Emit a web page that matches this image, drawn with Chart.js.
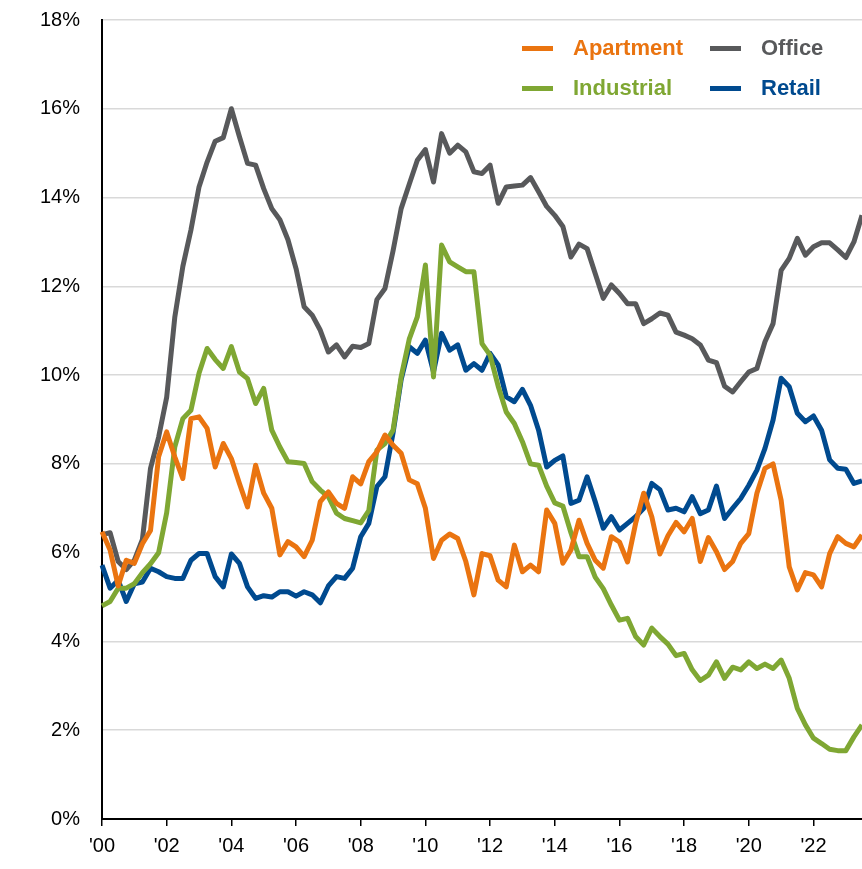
<!DOCTYPE html>
<html>
<head>
<meta charset="utf-8">
<script src="https://cdn.jsdelivr.net/npm/chart.js@4.4.1/dist/chart.umd.min.js"></script>
<style>
  body { margin: 0; background: #fff; overflow: hidden; }
  #wrap { position: relative; width: 862px; height: 869px; }
  #legend {
    position: absolute; left: 522px; top: 35px;
    display: grid; grid-template-columns: 188px auto; row-gap: 14px;
    font: bold 22px "Liberation Sans", Arial, sans-serif;
  }
  .item { display: flex; align-items: center; height: 26px; white-space: nowrap; }
  .swatch { width: 31px; height: 5px; margin-right: 20px; }
</style>
</head>
<body>
<div id="wrap">
  <canvas id="chart"></canvas>
  <div id="legend"></div>
</div>
<script>
// Quarterly vacancy rates, 2000 Q1 onward (percent)
const tickLabels = ["'00", "'02", "'04", "'06", "'08", "'10", "'12", "'14", "'16", "'18", "'20", "'22"];

const apartment = [
  6.47, 6.06, 5.25, 5.83, 5.76, 6.2, 6.5, 8.16, 8.72, 8.16, 7.67, 9.02, 9.06, 8.8, 7.93, 8.46,
  8.12, 7.56, 7.03, 7.97, 7.34, 7.0, 5.95, 6.25, 6.13, 5.91, 6.28, 7.15, 7.37, 7.11, 7.0, 7.71,
  7.55, 8.05, 8.27, 8.65, 8.42, 8.24, 7.64, 7.55, 7.0, 5.87, 6.28, 6.42, 6.32, 5.8, 5.05, 5.98,
  5.93, 5.38, 5.23, 6.17, 5.57, 5.72, 5.57, 6.96, 6.66, 5.76, 6.06, 6.73, 6.21, 5.83, 5.65, 6.36,
  6.24, 5.79, 6.66, 7.34, 6.81, 5.97, 6.38, 6.68, 6.47, 6.77, 5.8, 6.34, 6.02, 5.62, 5.8, 6.21,
  6.43, 7.34, 7.9, 8.0, 7.18, 5.68, 5.16, 5.55, 5.5, 5.23, 5.98, 6.36, 6.21, 6.13, 6.4
];
const office = [
  6.4, 6.45, 5.8, 5.62, 5.83, 6.3, 7.9, 8.6, 9.5, 11.3, 12.45, 13.27, 14.24, 14.8, 15.27, 15.35,
  16.0, 15.37, 14.77, 14.73, 14.2, 13.75, 13.5, 13.05, 12.4, 11.54, 11.35, 11.01, 10.52, 10.68, 10.41, 10.65,
  10.62, 10.71, 11.7, 11.95, 12.8, 13.75, 14.3, 14.84, 15.08, 14.35, 15.44, 15.0, 15.18, 15.03, 14.58, 14.54,
  14.73, 13.87, 14.24, 14.26, 14.28, 14.45, 14.13, 13.8, 13.6, 13.35, 12.66, 12.95, 12.85, 12.29, 11.73, 12.03,
  11.84, 11.61, 11.61, 11.16, 11.27, 11.4, 11.35, 10.97, 10.9, 10.82, 10.68, 10.34, 10.28, 9.75, 9.62, 9.85,
  10.07, 10.15, 10.75, 11.16, 12.36, 12.63, 13.08, 12.7, 12.89, 12.98, 12.98, 12.82, 12.65, 13.0, 13.6
];
const industrial = [
  4.8, 4.9, 5.2, 5.2, 5.3, 5.55, 5.75, 6.0, 6.9, 8.38, 9.02, 9.21, 10.04, 10.6, 10.35, 10.15,
  10.64, 10.07, 9.92, 9.36, 9.7, 8.76, 8.38, 8.05, 8.03, 8.01, 7.6, 7.41, 7.26, 6.89, 6.77, 6.72,
  6.67, 6.95, 8.31, 8.46, 8.76, 9.96, 10.81, 11.31, 12.48, 9.96, 12.93, 12.55, 12.44, 12.33, 12.33, 10.71,
  10.45, 9.75, 9.17, 8.91, 8.5, 8.0, 7.97, 7.5, 7.12, 7.05, 6.45, 5.91, 5.91, 5.45, 5.19, 4.82,
  4.48, 4.52, 4.11, 3.92, 4.3, 4.11, 3.94, 3.68, 3.73, 3.36, 3.12, 3.24, 3.54, 3.17, 3.42, 3.36,
  3.54, 3.39, 3.49, 3.39, 3.58, 3.17, 2.49, 2.12, 1.82, 1.7, 1.57, 1.54, 1.54, 1.85, 2.12
];
const retail = [
  5.72, 5.2, 5.38, 4.9, 5.3, 5.34, 5.65, 5.57, 5.46, 5.42, 5.42, 5.83, 5.98, 5.98, 5.46, 5.23,
  5.97, 5.76, 5.23, 4.97, 5.03, 5.0, 5.12, 5.12, 5.02, 5.12, 5.05, 4.87, 5.25, 5.46, 5.42, 5.65,
  6.36, 6.66, 7.49, 7.71, 8.7, 9.9, 10.64, 10.49, 10.79, 10.07, 10.94, 10.56, 10.68, 10.11, 10.26, 10.11,
  10.49, 10.23, 9.51, 9.4, 9.68, 9.32, 8.76, 7.93, 8.08, 8.18, 7.11, 7.18, 7.71, 7.15, 6.55, 6.81,
  6.51, 6.66, 6.81, 7.0, 7.56, 7.42, 6.96, 7.0, 6.92, 7.26, 6.88, 6.96, 7.5, 6.77, 7.0, 7.22,
  7.52, 7.86, 8.35, 8.99, 9.93, 9.74, 9.14, 8.95, 9.08, 8.76, 8.09, 7.9, 7.88, 7.56, 7.62
];

// one label per quarter
const quarters = [];
for (let i = 0; i < office.length; i++) {
  quarters.push((2000 + Math.floor(i / 4)) + ' Q' + (i % 4 + 1));
}

const colors = {
  apartment: '#EA7410',
  office: '#58595B',
  industrial: '#7FA733',
  retail: '#004A8F'
};

const font = { family: '"Liberation Sans", Arial, sans-serif', size: 20 };

const chart = new Chart(document.getElementById('chart'), {
  type: 'line',
  data: {
    labels: quarters,
    datasets: [
      { label: 'Apartment', data: apartment, borderColor: colors.apartment },
      { label: 'Office', data: office, borderColor: colors.office },
      { label: 'Industrial', data: industrial, borderColor: colors.industrial },
      { label: 'Retail', data: retail, borderColor: colors.retail }
    ]
  },
  options: {
    responsive: true,
    maintainAspectRatio: false,
    animation: false,
    layout: { padding: { top: 20, right: 0, bottom: 0, left: 0 } },
    elements: {
      line: { tension: 0, borderWidth: 5, borderJoinStyle: 'round', fill: false },
      point: { radius: 0 }
    },
    plugins: {
      legend: { display: false },
      tooltip: { enabled: false }
    },
    scales: {
      x: {
        type: 'category',
        offset: false,
        border: { color: '#000', width: 2 },
        grid: { drawOnChartArea: false, color: '#000', lineWidth: 1.5, tickLength: 7 },
        ticks: {
          autoSkip: false,
          maxRotation: 0,
          padding: 8,
          color: '#000',
          font: font,
          // label only the first quarter of every second year
          callback: (v, i) => (i % 8 === 0 ? tickLabels[i / 8] : null)
        },
        afterFit: (scale) => { scale.height = 50; }
      },
      y: {
        min: 0,
        max: 18,
        border: { color: '#000', width: 2 },
        grid: { color: '#D9D9D9', lineWidth: 1.5, drawTicks: false },
        ticks: {
          stepSize: 2,
          padding: 22,
          color: '#000',
          font: font,
          callback: (v) => v + '%'
        },
        afterFit: (scale) => {
          scale.width = 102;
          // the layout padding already leaves room for the 18% label
          scale.paddingTop = 0;
          scale.paddingBottom = 0;
        }
      }
    }
  }
});

// Legend in two columns: Apartment / Office, Industrial / Retail
const legendOrder = ['Apartment', 'Office', 'Industrial', 'Retail'];
const legend = document.getElementById('legend');
legendOrder.forEach((name) => {
  const ds = chart.data.datasets.find((d) => d.label === name);
  const item = document.createElement('div');
  item.className = 'item';
  item.style.color = ds.borderColor;
  const swatch = document.createElement('span');
  swatch.className = 'swatch';
  swatch.style.background = ds.borderColor;
  item.appendChild(swatch);
  item.appendChild(document.createTextNode(ds.label));
  legend.appendChild(item);
});
</script>
</body>
</html>
